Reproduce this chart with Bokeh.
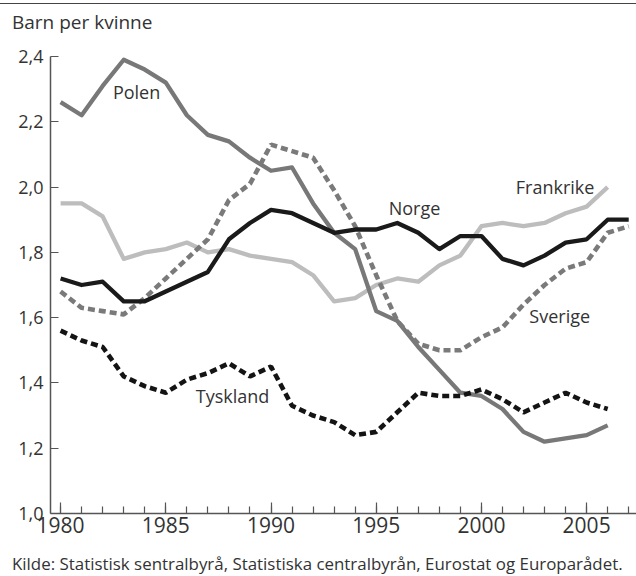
from bokeh.plotting import figure
from bokeh.models import Range1d, SingleIntervalTicker, FixedTicker, CustomJSTickFormatter, Label, Div
from bokeh.layouts import column
from bokeh.embed import file_html
from bokeh.resources import INLINE

years_short = list(range(1980, 2007))
years_long = list(range(1980, 2008))

polen = [2.26, 2.22, 2.31, 2.39, 2.36, 2.32, 2.22, 2.16, 2.14, 2.09, 2.05, 2.06, 1.95, 1.86,
         1.81, 1.62, 1.59, 1.51, 1.44, 1.37, 1.36, 1.32, 1.25, 1.22, 1.23, 1.24, 1.27]
frankrike = [1.95, 1.95, 1.91, 1.78, 1.80, 1.81, 1.83, 1.80, 1.81, 1.79, 1.78, 1.77, 1.73, 1.65,
             1.66, 1.70, 1.72, 1.71, 1.76, 1.79, 1.88, 1.89, 1.88, 1.89, 1.92, 1.94, 2.00]
tyskland = [1.56, 1.53, 1.51, 1.42, 1.39, 1.37, 1.41, 1.43, 1.46, 1.42, 1.45, 1.33, 1.30, 1.28,
            1.24, 1.25, 1.31, 1.37, 1.36, 1.36, 1.38, 1.35, 1.31, 1.34, 1.37, 1.34, 1.32]
norge = [1.72, 1.70, 1.71, 1.65, 1.65, 1.68, 1.71, 1.74, 1.84, 1.89, 1.93, 1.92, 1.89, 1.86,
         1.87, 1.87, 1.89, 1.86, 1.81, 1.85, 1.85, 1.78, 1.76, 1.79, 1.83, 1.84, 1.90, 1.90]
sverige = [1.68, 1.63, 1.62, 1.61, 1.66, 1.72, 1.78, 1.84, 1.96, 2.01, 2.13, 2.11, 2.09, 1.99,
           1.88, 1.73, 1.59, 1.52, 1.50, 1.50, 1.54, 1.57, 1.64, 1.70, 1.75, 1.77, 1.86, 1.88]

y_ticks = [1.0, 1.2, 1.4, 1.6, 1.8, 2.0, 2.2, 2.4]

title_text = "Barn per kvinne"
source_text = "Kilde: Statistisk sentralbyrå, Statistiska centralbyrån, Eurostat og Europarådet."

FONT = "Open Sans"
TXT = "#333333"
AX = "#555555"
W = 636

p = figure(width=W, height=505, output_backend="svg", toolbar_location=None,
           x_range=Range1d(1979.52, 2007.37), y_range=Range1d(1.0, 2.4),
           min_border_left=50, min_border_right=0, min_border_top=20, min_border_bottom=28)
p.outline_line_color = None
p.grid.visible = False
p.background_fill_color = "white"
p.border_fill_color = "white"

# x axis
xa = p.xaxis[0]
xa.ticker = SingleIntervalTicker(interval=5, num_minor_ticks=5)
xa.axis_line_color = AX
xa.axis_line_width = 1.5
xa.major_tick_in = 11
xa.major_tick_out = 0
xa.minor_tick_in = 7
xa.minor_tick_out = 0
xa.major_tick_line_color = AX
xa.minor_tick_line_color = AX
xa.major_tick_line_width = 1.2
xa.minor_tick_line_width = 1.2
xa.major_label_standoff = 3
xa.major_label_text_font = FONT
xa.major_label_text_font_size = "21px"
xa.major_label_text_color = TXT

# y axis
ya = p.yaxis[0]
ya.ticker = FixedTicker(ticks=y_ticks)
ya.formatter = CustomJSTickFormatter(code="return tick.toFixed(1).replace('.', ',');")
ya.axis_line_color = AX
ya.axis_line_width = 1.5
ya.major_tick_in = 8
ya.major_tick_out = 0
ya.minor_tick_in = 0
ya.minor_tick_out = 0
ya.major_tick_line_color = AX
ya.major_tick_line_width = 1.2
ya.major_label_standoff = 7
ya.major_label_text_font = FONT
ya.major_label_text_font_size = "18px"
ya.major_label_text_color = TXT

# series
p.line(years_short, frankrike, line_color="#bdbdbd", line_width=4.3, line_join="round")
p.line(years_short, polen, line_color="#787878", line_width=4.3, line_join="round")
p.line(years_long, sverige, line_color="#7a7a7a", line_width=4.6, line_dash="7 4")
p.line(years_long, norge, line_color="#1a1a1a", line_width=4.3, line_join="round")
p.line(years_short, tyskland, line_color="#141414", line_width=4.6, line_dash="7 4")

def lab(x, y, text):
    p.add_layout(Label(x=x, y=y, text=text, text_font=FONT, text_font_size="18px",
                       text_color=TXT, text_align="center", text_baseline="middle"))

lab(1983.61, 2.292, "Polen")
lab(1996.82, 1.936, "Norge")
lab(2003.5, 2.001, "Frankrike")
lab(2003.72, 1.604, "Sverige")
lab(1988.17, 1.361, "Tyskland")

top = Div(width=W, height=36, margin=(0, 0, 0, 0),
          text=(f'<div style="position:relative;width:{W}px;height:36px;">'
                '<div style="position:absolute;left:0;top:3px;width:636px;height:0;'
                'border-top:1.5px solid #444;"></div>'
                '<div style="position:absolute;left:12px;top:13px;white-space:nowrap;'
                f'font-family:\'{FONT}\';font-size:19px;line-height:19px;color:{TXT};">'
                f'{title_text}</div></div>'))

bottom = Div(width=W, height=35, margin=(0, 0, 0, 0),
             text=(f'<div style="position:relative;width:{W}px;height:35px;">'
                   '<div style="position:absolute;left:12px;top:15px;white-space:nowrap;'
                   f'font-family:\'{FONT}\';font-size:16.9px;line-height:16.9px;color:{TXT};">'
                   f'{source_text}</div></div>'))

layout = column(top, p, bottom, spacing=0)

open("out.html", "w").write(file_html(layout, INLINE))
